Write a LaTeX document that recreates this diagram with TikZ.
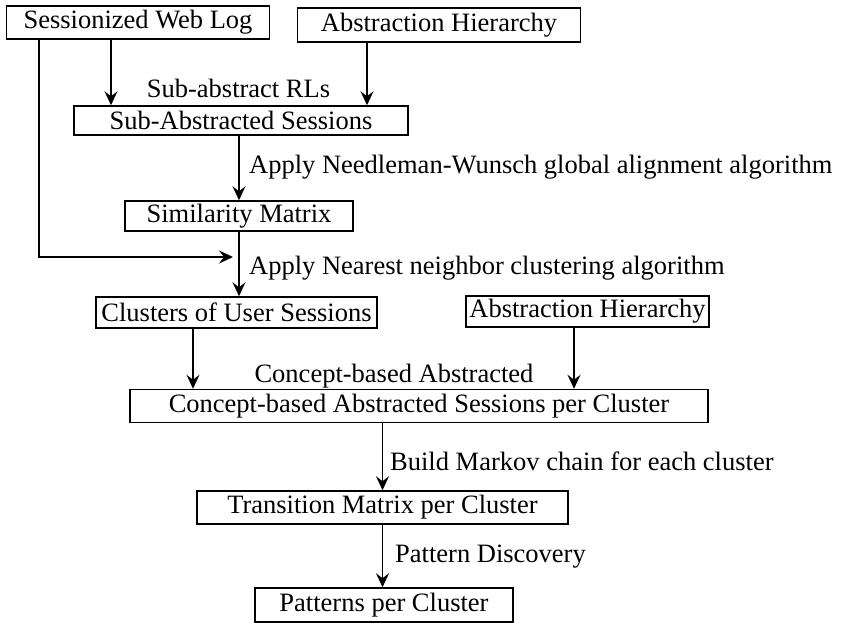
\documentclass[tikz,border=0pt]{standalone}
\usepackage{fontspec}
\setmainfont{Liberation Serif}
\usetikzlibrary{arrows.meta}
\begin{document}
\begin{tikzpicture}[
		x=1pt, y=-1pt,
		font=\fontsize{26.5}{30}\selectfont,
		boxstyle/.style={draw, line width=1.5pt, inner sep=0pt},
		flow/.style={-{Stealth[length=14pt, width=13pt, inset=5pt]}, line width=1.2pt},
		linetext/.style={inner sep=0pt, anchor=base west}
	]
		\useasboundingbox (0,0) rectangle (841,625);

		\node[boxstyle, minimum width=263pt, minimum height=33pt] (weblog) at (138, 22.5) {Sessionized Web Log};
		\node[boxstyle, minimum width=283pt, minimum height=34pt] (hier) at (439, 25) {Abstraction Hierarchy};
		\node[boxstyle, minimum width=334pt, minimum height=29pt] (subabs) at (241, 120.5) {Sub-Abstracted Sessions};
		\node[boxstyle, minimum width=228pt, minimum height=30pt] (simmat) at (239, 216) {Similarity Matrix};
		\node[boxstyle, minimum width=281pt, minimum height=31pt] (clusters) at (236.5, 312.5) {Clusters of User Sessions};
		\node[boxstyle, minimum width=243pt, minimum height=31pt] (hiertwo) at (587.5, 311.5) {Abstraction Hierarchy};
		\node[boxstyle, minimum width=578pt, minimum height=33pt] (concept) at (419, 406) {Concept-based Abstracted Sessions per Cluster};
		\node[boxstyle, minimum width=371pt, minimum height=33pt] (transmat) at (382.5, 507.5) {Transition Matrix per Cluster};
		\node[boxstyle, minimum width=258pt, minimum height=34pt] (patterns) at (384, 605) {Patterns per Cluster};

		\coordinate (weblogout) at ([xshift=-27pt]weblog.south);
		\coordinate (weblogleft) at ([xshift=-99pt]weblog.south);
		\coordinate (hierout) at ([xshift=-72pt]hier.south);
		\coordinate (clustersout) at ([xshift=-43.5pt]clusters.south);
		\coordinate (hiertwoout) at ([xshift=-13.5pt]hiertwo.south);
		\coordinate (merge) at (233, 257);

		\draw[flow] (weblogout) -- (weblogout |- subabs.north);
		\draw[flow] (hierout) -- (hierout |- subabs.north);
		\node[inner sep=0pt, anchor=base] (subabstext) at (238.5, 97) {Sub-abstract RLs};

		\draw[flow] (subabs.south -| simmat.north) -- (simmat.north);
		\node[linetext] (alignment) at (249, 173) {Apply Needleman-Wunsch global alignment algorithm};

		\draw[flow] (weblogleft) |- (merge);
		\draw[flow] (simmat.south) -- (simmat.south |- clusters.north);
		\node[linetext] (clustering) at (249, 274) {Apply Nearest neighbor clustering algorithm};

		\draw[flow] (clustersout) -- (clustersout |- concept.north);
		\draw[flow] (hiertwoout) -- (hiertwoout |- concept.north);
		\node[inner sep=0pt, anchor=base] (concepttext) at (394, 382) {Concept-based Abstracted};

		\draw[flow] (concept.south -| transmat.north) -- (transmat.north);
		\node[linetext] (markov) at (390, 470) {Build Markov chain for each cluster};

		\draw[flow] (transmat.south) -- (transmat.south |- patterns.north);
		\node[linetext] (discovery) at (395, 562) {Pattern Discovery};
	\end{tikzpicture}
\end{document}
